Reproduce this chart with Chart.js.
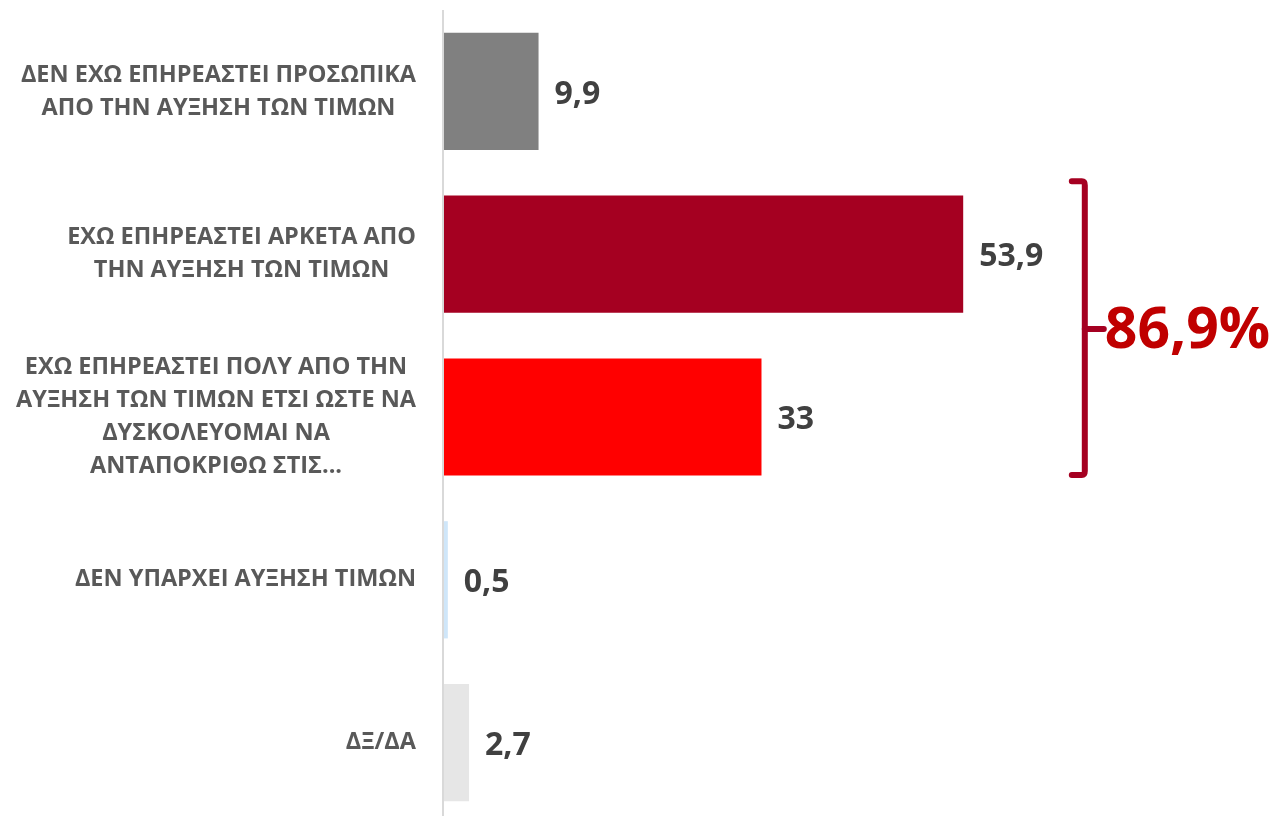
<!DOCTYPE html>
<html>
<head>
<meta charset="utf-8">
<script src="https://cdn.jsdelivr.net/npm/chart.js@4/dist/chart.umd.min.js"></script>
<style>
  html, body { margin: 0; padding: 0; background: #fff; overflow: hidden; }
  canvas { display: block; }
</style>
</head>
<body>
<canvas id="bar-chart" width="1273" height="824"></canvas>
<script>
// categories (each entry split into the lines shown on the chart)
var categories = [
    ["ΔΕΝ ΕΧΩ ΕΠΗΡΕΑΣΤΕΙ ΠΡΟΣΩΠΙΚΑ", "ΑΠΟ ΤΗΝ ΑΥΞΗΣΗ ΤΩΝ ΤΙΜΩΝ"],
    ["ΕΧΩ ΕΠΗΡΕΑΣΤΕΙ ΑΡΚΕΤΑ ΑΠΟ", "ΤΗΝ ΑΥΞΗΣΗ ΤΩΝ ΤΙΜΩΝ"],
    ["ΕΧΩ ΕΠΗΡΕΑΣΤΕΙ ΠΟΛΥ ΑΠΟ ΤΗΝ", "ΑΥΞΗΣΗ ΤΩΝ ΤΙΜΩΝ ΕΤΣΙ ΩΣΤΕ ΝΑ", "ΔΥΣΚΟΛΕΥΟΜΑΙ ΝΑ", "ΑΝΤΑΠΟΚΡΙΘΩ ΣΤΙΣ..."],
    ["ΔΕΝ ΥΠΑΡΧΕΙ ΑΥΞΗΣΗ ΤΙΜΩΝ"],
    ["ΔΞ/ΔΑ"]
];
var values = [9.9, 53.9, 33, 0.5, 2.7];
var barColors = ["#808080", "#A50021", "#FF0000", "#CFE6F9", "#E6E6E6"];
// the two categories grouped by the bracket
var bracketGroup = [1, 2];

var ctx = document.getElementById("bar-chart");

function fmt(v) {
    return String(v).replace(".", ",");
}

var labelPlugin = {
    id: "labels",
    afterDatasetsDraw: function (chart) {
        var c = chart.ctx;
        var yScale = chart.scales.y;
        var xScale = chart.scales.x;
        var meta = chart.getDatasetMeta(0);

        c.save();
        // category labels: block right aligned, lines centred
        c.font = "bold 23.5px 'Open Sans'";
        c.fillStyle = "#595959";
        c.textAlign = "center";
        c.textBaseline = "middle";
        var lineH = 33;
        categories.forEach(function (lines, i) {
            var w = 0;
            lines.forEach(function (l) { w = Math.max(w, c.measureText(l).width); });
            var cx = 416 - w / 2;
            var cy = yScale.getPixelForValue(i);
            var y0 = cy - (lines.length - 1) * lineH / 2;
            lines.forEach(function (l, k) {
                c.fillText(l, cx, y0 + k * lineH);
            });
        });

        // value labels
        c.font = "bold 32px 'Open Sans'";
        c.fillStyle = "#404040";
        c.textAlign = "left";
        meta.data.forEach(function (bar, i) {
            c.fillText(fmt(values[i]), bar.x + 16, bar.y + 3);
        });

        // bracket
        var top = yScale.getPixelForValue(bracketGroup[0]) - 73;
        var bot = yScale.getPixelForValue(bracketGroup[1]) + 58;
        var mid = (top + bot) / 2 + 1;
        var bx = xScale.getPixelForValue(66.5);
        c.strokeStyle = "#A50021";
        c.lineWidth = 6;
        c.lineCap = "round";
        c.lineJoin = "round";
        c.beginPath();
        c.moveTo(bx - 13, top);
        c.lineTo(bx - 3, top);
        c.quadraticCurveTo(bx, top, bx, top + 4);
        c.lineTo(bx, bot - 4);
        c.quadraticCurveTo(bx, bot, bx - 3, bot);
        c.lineTo(bx - 13, bot);
        c.stroke();
        c.beginPath();
        c.moveTo(bx, mid);
        c.lineTo(bx + 19, mid);
        c.stroke();

        var total = 0;
        bracketGroup.forEach(function (i) { total += values[i]; });
        c.font = "bold 57px 'Open Sans'";
        c.fillStyle = "#C00000";
        c.textAlign = "left";
        c.fillText(fmt(Math.round(total * 10) / 10) + "%", bx + 20, mid + 3);
        c.restore();
    }
};

new Chart(ctx, {
    type: "bar",
    data: {
        labels: categories,
        datasets: [
            {
                data: values,
                backgroundColor: barColors,
                borderWidth: 0,
                categoryPercentage: 1,
                barPercentage: 0.72
            }
        ]
    },
    options: {
        indexAxis: "y",
        responsive: false,
        animation: false,
        layout: {
            padding: { left: 443, top: 10, right: 0, bottom: 0 }
        },
        plugins: {
            legend: { display: false },
            tooltip: { enabled: false }
        },
        scales: {
            x: {
                min: 0,
                max: 86,
                ticks: { display: false, stepSize: 10 },
                border: { display: false },
                grid: {
                    drawTicks: false,
                    lineWidth: 2,
                    color: function (c) {
                        return c.tick && c.tick.value === 0 ? "#D9D9D9" : "rgba(0,0,0,0)";
                    }
                }
            },
            y: {
                display: false
            }
        }
    },
    plugins: [labelPlugin]
});
</script>
</body>
</html>
